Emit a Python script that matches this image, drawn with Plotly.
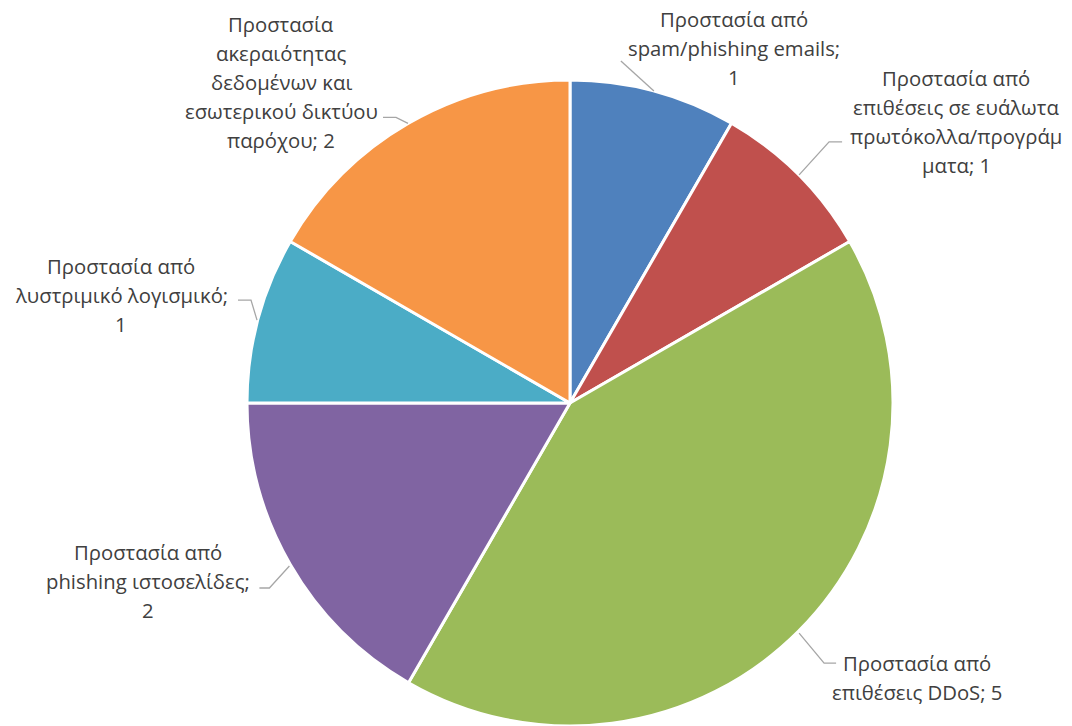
import math
import plotly.graph_objects as go

# ---- data ----
categories = [
    "Προστασία από spam/phishing emails",
    "Προστασία από επιθέσεις σε ευάλωτα πρωτόκολλα/προγράμματα",
    "Προστασία από επιθέσεις DDoS",
    "Προστασία από phishing ιστοσελίδες",
    "Προστασία από λυστριμικό λογισμικό",
    "Προστασία ακεραιότητας δεδομένων και εσωτερικού δικτύου παρόχου",
]
values = [1, 1, 5, 2, 1, 2]
label_lines = [
    ["Προστασία από", "spam/phishing emails;", "{v}"],
    ["Προστασία από", "επιθέσεις σε ευάλωτα", "πρωτόκολλα/προγράμ", "ματα; {v}"],
    ["Προστασία από", "επιθέσεις DDoS; {v}"],
    ["Προστασία από", "phishing ιστοσελίδες;", "{v}"],
    ["Προστασία από", "λυστριμικό λογισμικό;", "{v}"],
    ["Προστασία", "ακεραιότητας", "δεδομένων και", "εσωτερικού δικτύου", "παρόχου; {v}"],
]
colors = ["#4F81BD", "#C0504D", "#9BBB59", "#8064A2", "#4BACC6", "#F79646"]

# ---- layout constants (pixels) ----
W, H = 1072, 726
CX, CY, R = 570, 404, 324
FONT = "Open Sans"
FS = 20.3
LINE_H = 29
TEXT_COLOR = "#404040"
LEADER = "#A6A6A6"

# label block centres and leader geometry (elbow offset, horizontal tail)
label_pos = [(734, 48), (956, 121), (917, 677), (148, 581), (121, 295), (281, 82)]
elbow_off = [(-33, -30), (30, -33), (25, 30), (-20, 22), (-6, -20), (-12, -6)]
tail = [0, 13, 12, -10, -13, -13]

fig = go.Figure()
fig.add_trace(go.Pie(
    labels=categories, values=values, sort=False, direction="clockwise",
    rotation=0, marker=dict(colors=colors, line=dict(color="white", width=3)),
    textinfo="none", hoverinfo="label+value", showlegend=False,
    domain=dict(x=[(CX - R) / W, (CX + R) / W], y=[max(0, (H - CY - R) / H), (H - CY + R) / H]),
))

total = sum(values)
cum = 0
shapes, annotations = [], []
for i, v in enumerate(values):
    mid = (cum + v / 2) / total * 2 * math.pi
    cum += v
    ex = CX + R * math.sin(mid)
    ey = CY - R * math.cos(mid)
    bx, by = ex + elbow_off[i][0], ey + elbow_off[i][1]
    path = f"M {ex:.1f} {ey:.1f} L {bx:.1f} {by:.1f}"
    if tail[i]:
        path += f" L {bx + tail[i]:.1f} {by:.1f}"
    shapes.append(dict(type="path", xref="x", yref="y", path=path,
                       line=dict(color=LEADER, width=1.3)))
    lines = [s.format(v=v) for s in label_lines[i]]
    n = len(lines)
    lx, ly = label_pos[i]
    for j, s in enumerate(lines):
        annotations.append(dict(
            x=lx, y=ly + (j - (n - 1) / 2) * LINE_H, xref="x", yref="y",
            text=s, showarrow=False, xanchor="center", yanchor="middle",
            font=dict(family=FONT, size=FS, color=TEXT_COLOR)))

fig.update_layout(
    width=W, height=H, margin=dict(l=0, r=0, t=0, b=0),
    paper_bgcolor="white", plot_bgcolor="rgba(0,0,0,0)",
    xaxis=dict(range=[0, W], visible=False, fixedrange=True),
    yaxis=dict(range=[H, 0], visible=False, fixedrange=True),
    shapes=shapes, annotations=annotations,
)
fig.write_html("out.html")
